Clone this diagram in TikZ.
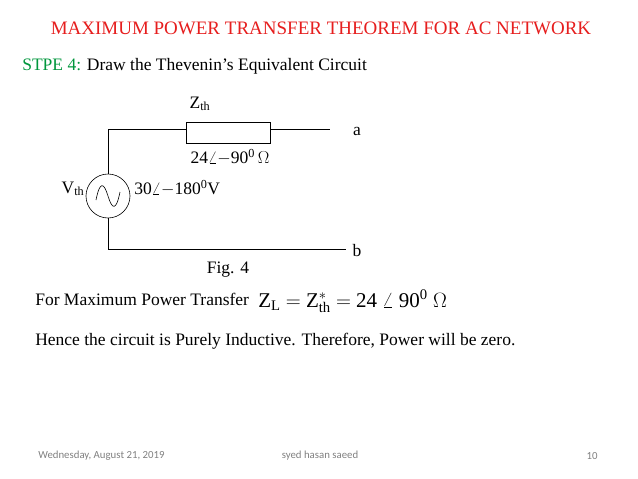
\documentclass[tikz,border=0pt]{standalone}
\usepackage{fontspec}
\setmainfont{Liberation Serif}
\newfontfamily\footfont{Carlito}
\usetikzlibrary{positioning}
\definecolor{titlered}{RGB}{230,30,30}
\definecolor{stepgreen}{RGB}{0,150,60}
\begin{document}
\begin{tikzpicture}[x=1pt,y=-1pt,semithick,
                    every node/.style={inner sep=0pt,font=\fontsize{17.5}{20}\selectfont}]
  \tikzstyle{zbox}=[draw,minimum width=84pt,minimum height=21pt]
  \tikzstyle{footer}=[font=\footfont\fontsize{10.8}{12}\selectfont,text=gray]
  \useasboundingbox (0,0) rectangle (638,479);

  \node[text=titlered,font=\fontsize{19}{22}\selectfont] (title) at (321,28)
    {MAXIMUM POWER TRANSFER THEOREM FOR AC NETWORK};
  \node[anchor=west] (step) at (22,66)
    {\textcolor{stepgreen}{STPE 4:} Draw the Thevenin’s Equivalent Circuit};

  % circuit
  \node[zbox] (Z) at (228,133) {};
  \node[draw,circle,minimum size=44pt] (V) at (108,196) {};
  \coordinate (tl) at (108,129);
  \coordinate (bl) at (108,249);
  \coordinate (ta) at (330,129);
  \coordinate (tb) at (346,249);
  \draw (V.north) -- (tl) -- (Z.west |- tl);
  \draw (Z.east |- tl) -- (ta);
  \draw (V.south) -- (bl) -- (tb);
  \draw (96,200) .. controls (100,180) and (104,183) .. (108,196)
                 .. controls (112,209) and (116,212) .. (120,192);
  \node (a) at (357,131) {a};
  \node (b) at (357,251) {b};
  \node (zl) at (200,104) {Z$_{\mathrm{th}}$};
  \node (zv) at (230,157) {24$\angle$$-$90$^{\mathrm{0}}\,\Omega$};
  \node (vl) at (73,189) {V$_{\mathrm{th}}$};
  \node[anchor=west] (vv) at (134,188) {30$\angle$$-$180$^{\mathrm{0}}$V};
  \node (fig) at (228,270) {Fig. 4};

  \node[anchor=west] (ft) at (35,299) {For Maximum Power Transfer};
  \node[anchor=west,font=\fontsize{21}{24}\selectfont] (eq) at (258,301)
    {Z$_{\mathrm{L}}$ $=$ Z$^{*}_{\mathrm{th}}$ $=$ 24 $\angle$ 90$^{\mathrm{0}}$ $\Omega$};
  \node[anchor=west] (hence) at (35,341)
    {Hence the circuit is Purely Inductive. Therefore, Power will be zero.};

  \node[footer,anchor=west] (date) at (38,456) {Wednesday, August 21, 2019};
  \node[footer] (auth) at (320,456) {syed hasan saeed};
  \node[footer] (pg) at (592,456) {10};
\end{tikzpicture}
\end{document}
